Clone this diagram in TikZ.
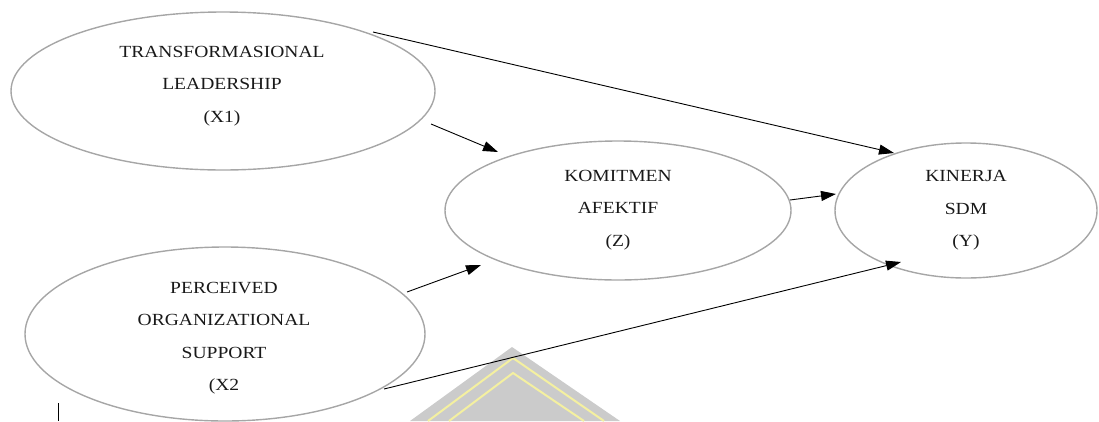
\documentclass[tikz,border=0pt]{standalone}
\usepackage{fontspec}
\setmainfont{Liberation Serif}[FakeStretch=1.15]
\usetikzlibrary{arrows.meta,shapes.geometric}
\definecolor{ellgrey}{HTML}{A6A6A6}
\definecolor{wmgrey}{HTML}{CBCBCB}
\definecolor{wmyellow}{HTML}{F4F0A0}
\tikzset{
  latent/.style={ellipse, draw=ellgrey, line width=1.4pt, inner sep=0pt},
  lbl/.style={align=center, inner sep=0pt, text=black!90, font=\fontsize{17}{32.5}\selectfont},
  path/.style={draw=black, line width=0.9pt, -{Triangle[length=15pt,width=10pt]}}
}
\begin{document}
\begin{tikzpicture}[x=1pt,y=-1pt]
\useasboundingbox (0,0) rectangle (1099,421);
% watermark
\fill[wmgrey] (512,347) -- (410,421) -- (620,421) -- cycle;
\draw[wmyellow, line width=2pt] (428,421) -- (513,358) -- (604,421);
\draw[wmyellow, line width=2pt] (449,421) -- (513,373) -- (584,421);
% ellipses
\node[latent, minimum width=424pt, minimum height=158pt] (X1) at (223,91) {};
\node[latent, minimum width=400pt, minimum height=174pt] (X2) at (225,334) {};
\node[latent, minimum width=346pt, minimum height=139pt] (Z) at (618,210.5) {};
\node[latent, minimum width=262pt, minimum height=135pt] (Y) at (966,210.5) {};
% labels
\node[lbl] (X1t) at (222,86) {TRANSFORMASIONAL\\LEADERSHIP\\(X1)};
\node[lbl] (X2t) at (224,338) {PERCEIVED\\ORGANIZATIONAL\\SUPPORT\\(X2};
\node[lbl] (Zt) at (618,210) {KOMITMEN\\AFEKTIF\\(Z)};
\node[lbl] (Yt) at (966,210.5) {KINERJA\\SDM\\(Y)};
% connector ends
\coordinate (a1s) at (373,32);  \coordinate (a1e) at (894,153);
\coordinate (a2s) at (431,124); \coordinate (a2e) at (498,152);
\coordinate (a3s) at (790,200); \coordinate (a3e) at (836,194);
\coordinate (a4s) at (407,292); \coordinate (a4e) at (481,265);
\coordinate (a5s) at (384,389); \coordinate (a5e) at (901,262);
\draw[path] (a1s) -- (a1e);
\draw[path] (a2s) -- (a2e);
\draw[path] (a3s) -- (a3e);
\draw[path] (a4s) -- (a4e);
\draw[path] (a5s) -- (a5e);
% cursor mark
\coordinate (cur1) at (58,403); \coordinate (cur2) at (58,421);
\draw[black, line width=1pt] (cur1) -- (cur2);
\end{tikzpicture}
\end{document}
